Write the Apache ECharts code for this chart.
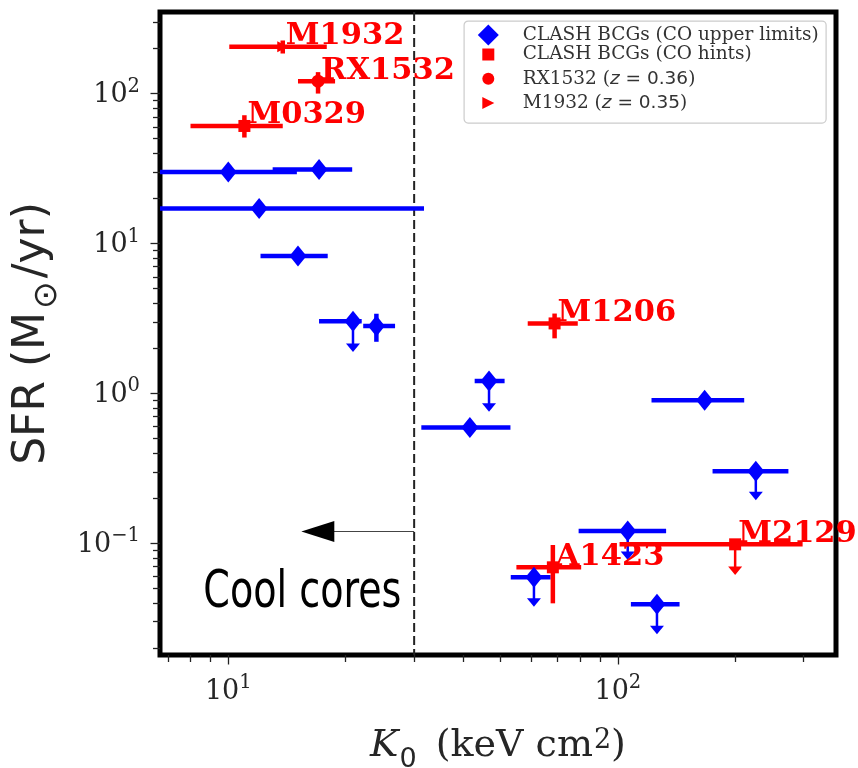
<!DOCTYPE html>
<html>
<head>
<meta charset="utf-8">
<script src="https://cdn.jsdelivr.net/npm/echarts@6/dist/echarts.min.js"></script>
<style>
html, body { margin: 0; padding: 0; background: #fff; }
#main { width: 858px; height: 768px; }
</style>
</head>
<body>
<div id="main"></div>
<script>
// CLASH BCGs, CO upper limits (blue diamonds)
var clashK       = [10.0, 17.1, 12.0, 15.1, 20.9, 24.0, 46.7, 41.7, 167, 226, 106, 60.9, 126];
var clashKLo     = [6.0, 13.0, 6.0, 12.1, 17.1, 22.2, 42.9, 31.3, 122, 175, 79.3, 53.1, 108];
var clashKHi     = [15.0, 20.8, 31.8, 18.0, 22.0, 26.8, 51.2, 53.0, 211, 274, 133, 67.2, 144];
var clashSfr     = [30.0, 31.1, 17.1, 8.26, 3.03, 2.82, 1.21, 0.593, 0.902, 0.303, 0.121, 0.0593, 0.0392];
var clashSfrLo   = [null, null, null, null, null, 2.21, null, null, null, null, null, null, null];
var clashSfrHi   = [null, null, null, null, null, 3.40, null, null, null, null, null, null, null];
var clashLimitTo = [null, null, null, null, 1.89, null, 0.754, null, null, 0.194, 0.0774, 0.0378, 0.0248];

// named clusters (red)
var redNames   = ['M1932', 'RX1532', 'M0329', 'M1206', 'A1423', 'M2129'];
var redKind    = ['m1932', 'rx1532', 'hint', 'hint', 'hint', 'hint'];
var redK       = [13.8, 17.0, 11.0, 68.8, 68.1, 200];
var redKLo     = [10.06, 15.1, 8.0, 58.7, 54.9, 101];
var redKHi     = [17.9, 18.8, 13.8, 78.9, 80.5, 298];
var redSfr     = [205, 121, 60.8, 2.93, 0.0692, 0.0985];
var redSfrLo   = [185, 100, 50.9, 2.33, 0.0398, null];
var redSfrHi   = [226, 139, 71.7, 3.41, 0.0975, null];
var redLimitTo = [null, null, null, null, null, 0.0615];

// cool core cut and annotation
var kCut = 30;
var coolArrow = [30, 15.4, 0.12];   // from K, to K, at SFR
var coolText = [15.5, 0.031];

// axes
var xRange = [6.68, 363];
var yRange = [0.018, 350];
var xMajor = [10, 100];
var xMinor = [7, 8, 9, 20, 30, 40, 50, 60, 70, 80, 90, 200, 300];
var yMajor = [0.1, 1, 10, 100];
var yMinor = [0.02, 0.03, 0.04, 0.05, 0.06, 0.07, 0.08, 0.09,
              0.2, 0.3, 0.4, 0.5, 0.6, 0.7, 0.8, 0.9,
              2, 3, 4, 5, 6, 7, 8, 9,
              20, 30, 40, 50, 60, 70, 80, 90, 200, 300];

var blue = '#0000ff';
var red = '#ff0000';

var myChart = echarts.init(document.getElementById('main'));

function powLabel(v) {
    var e = Math.round(Math.log(v) / Math.LN10);
    if (Math.abs(Math.pow(10, e) - v) > 1e-6 * v) return '';
    return '{n|10}{s|' + (e < 0 ? '\u2212' + (-e) : e) + '}';
}
var tickRich = {
    n: {fontSize: 27, fontFamily: 'DejaVu Serif', color: '#262626', verticalAlign: 'bottom', lineHeight: 30},
    s: {fontSize: 19.5, fontFamily: 'DejaVu Serif', color: '#262626', verticalAlign: 'bottom', lineHeight: 21, padding: [0, 0, 12, 0]}
};

function errLimit(api, k, from, to, color, children) {
    var a = api.coord([k, from]);
    var b = api.coord([k, to]);
    children.push({type: 'line', shape: {x1: a[0], y1: a[1], x2: b[0], y2: b[1] - 7}, style: {stroke: color, lineWidth: 2.5}});
    children.push({type: 'polygon', shape: {points: [[b[0] - 7, b[1] - 8.5], [b[0] + 7, b[1] - 8.5], [b[0], b[1]]]}, style: {fill: color}});
}

function renderBlueBars(params, api) {
    var i = params.dataIndex;
    var cs = params.coordSys;
    var c = api.coord([clashK[i], clashSfr[i]]);
    var lo = api.coord([clashKLo[i], clashSfr[i]]);
    var hi = api.coord([clashKHi[i], clashSfr[i]]);
    var children = [{type: 'line', shape: {x1: Math.max(lo[0], cs.x), y1: c[1], x2: hi[0], y2: c[1]}, style: {stroke: blue, lineWidth: 4.5}}];
    if (clashSfrLo[i] != null) {
        var v0 = api.coord([clashK[i], clashSfrLo[i]]);
        var v1 = api.coord([clashK[i], clashSfrHi[i]]);
        children.push({type: 'line', shape: {x1: c[0], y1: v0[1], x2: c[0], y2: v1[1]}, style: {stroke: blue, lineWidth: 4.5}});
    }
    if (clashLimitTo[i] != null) errLimit(api, clashK[i], clashSfr[i], clashLimitTo[i], blue, children);
    return {type: 'group', children: children};
}

function renderRedBars(params, api) {
    var i = params.dataIndex;
    var c = api.coord([redK[i], redSfr[i]]);
    var lo = api.coord([redKLo[i], redSfr[i]]);
    var hi = api.coord([redKHi[i], redSfr[i]]);
    var children = [{type: 'line', shape: {x1: lo[0], y1: c[1], x2: hi[0], y2: c[1]}, style: {stroke: red, lineWidth: 4.5}}];
    if (redSfrLo[i] != null) {
        var v0 = api.coord([redK[i], redSfrLo[i]]);
        var v1 = api.coord([redK[i], redSfrHi[i]]);
        children.push({type: 'line', shape: {x1: c[0], y1: v0[1], x2: c[0], y2: v1[1]}, style: {stroke: red, lineWidth: 4.5}});
    }
    if (redLimitTo[i] != null) errLimit(api, redK[i], redSfr[i], redLimitTo[i], red, children);
    return {type: 'group', children: children};
}

function renderRedLabels(params, api) {
    var i = params.dataIndex;
    var p = api.coord([redK[i], redSfr[i]]);
    return {
        type: 'text', x: p[0] + 3, y: p[1] + 5,
        style: {text: redNames[i], fill: red, font: 'bold 30.5px "DejaVu Serif"', align: 'left', verticalAlign: 'bottom'}
    };
}

function renderCool(params, api) {
    var cs = params.coordSys;
    var xc = api.coord([kCut, 1])[0];
    var a0 = api.coord([coolArrow[0], coolArrow[2]]);
    var a1 = api.coord([coolArrow[1], coolArrow[2]]);
    var t = api.coord(coolText);
    return {type: 'group', children: [
        {type: 'line', shape: {x1: xc, y1: cs.y, x2: xc, y2: cs.y + cs.height}, style: {stroke: '#222', lineWidth: 2, lineDash: [9, 4]}},
        {type: 'line', shape: {x1: a0[0], y1: a0[1], x2: a1[0] + 30, y2: a1[1]}, style: {stroke: '#444', lineWidth: 1.2}},
        {type: 'polygon', shape: {points: [[a1[0], a1[1]], [a1[0] + 33, a1[1] - 10.5], [a1[0] + 33, a1[1] + 10.5]]}, style: {fill: '#000'}},
        {type: 'text', x: t[0], y: t[1], scaleX: 0.83,
            style: {text: 'Cool cores', font: '51px "Liberation Sans Narrow", "DejaVu Sans Condensed", sans-serif', fill: '#000', align: 'center', verticalAlign: 'bottom'}}
    ]};
}

function pick(kind) {
    var out = [];
    for (var i = 0; i < redK.length; i++) {
        if (redKind[i] === kind) out.push([redK[i], redSfr[i]]);
    }
    return out;
}

var clashPts = clashK.map(function (k, i) { return [k, clashSfr[i]]; });
var redPts = redK.map(function (k, i) { return [k, redSfr[i]]; });

function logAxis(range, ticks, len, labels, extra) {
    var ax = {
        type: 'log', logBase: 10, min: range[0], max: range[1],
        splitLine: {show: false},
        axisLine: {show: false},
        axisTick: {show: true, customValues: ticks, length: len, lineStyle: {color: '#222', width: 1.3}},
        axisLabel: labels ? {show: true, customValues: ticks, formatter: powLabel, rich: tickRich, margin: 20} : {show: false}
    };
    for (var key in extra) ax[key] = extra[key];
    return ax;
}

function legendText(padLeft) {
    return {
        fontFamily: 'DejaVu Serif', fontSize: 18.5, color: '#333', padding: [0, 0, 0, padLeft],
        rich: {
            i: {fontFamily: 'DejaVu Sans', fontStyle: 'italic', fontSize: 18.5, color: '#333'},
            m: {fontFamily: 'DejaVu Sans', fontSize: 18.5, color: '#333'}
        }
    };
}
function legendFmt(name) {
    var m = name.match(/^(.*)\(z = (.*)\)$/);
    if (m) return m[1] + '({i|z}{m| = ' + m[2] + '})';
    return name;
}

var option = {
    animation: false,
    backgroundColor: '#fff',
    grid: {left: 160, right: 22, top: 12, bottom: 113, containLabel: false, outerBoundsMode: 'none',
        show: true, borderColor: '#000', borderWidth: 5, backgroundColor: 'transparent'},
    graphic: [{
        type: 'rect', left: 463.5, top: 20.5, z: 3,
        shape: {width: 362, height: 102, r: 4},
        style: {fill: 'rgba(255,255,255,0.85)', stroke: '#ccc', lineWidth: 1.2}
    }],
    legend: [{
        orient: 'vertical', left: 477.8, top: 24.5, padding: 0, z: 5,
        itemWidth: 21, itemHeight: 21,
        data: [{name: 'CLASH BCGs (CO upper limits)', icon: 'diamond'}],
        textStyle: legendText(19), formatter: legendFmt
    }, {
        orient: 'vertical', left: 482.3, top: 45, padding: 0, z: 5,
        itemWidth: 12, itemHeight: 12, itemGap: 5.2,
        data: [
            {name: 'CLASH BCGs (CO hints)', icon: 'rect'},
            {name: 'RX1532 (z = 0.36)', icon: 'circle'},
            {name: 'M1932 (z = 0.35)', icon: 'path://M0,0L12,6L0,12Z'}
        ],
        textStyle: legendText(23.4), formatter: legendFmt
    }],
    xAxis: [
        logAxis(xRange, xMajor, 9.5, true, {
            position: 'bottom',
            name: '{k|K}{sub|0}{r| (keV cm}{sup|2}{r|)}',
            nameLocation: 'middle', nameGap: 72,
            nameTextStyle: {rich: {
                k: {fontFamily: 'DejaVu Serif', fontStyle: 'italic', fontSize: 38, color: '#262626', verticalAlign: 'top', lineHeight: 42},
                sub: {fontFamily: 'DejaVu Sans', fontSize: 27, color: '#262626', verticalAlign: 'top', lineHeight: 28, padding: [19, 7, 0, 1]},
                r: {fontFamily: 'DejaVu Serif', fontSize: 38, color: '#262626', verticalAlign: 'top', lineHeight: 42},
                sup: {fontFamily: 'DejaVu Serif', fontSize: 27, color: '#262626', verticalAlign: 'top', lineHeight: 28, padding: [0, 0, 0, 1]}
            }}
        }),
        logAxis(xRange, xMinor, 7, false, {position: 'bottom'})
    ],
    yAxis: [
        logAxis(yRange, yMajor, 9.5, true, {
            position: 'left',
            name: '{a|SFR (M}{b|\u2299}{a|/yr)}',
            nameLocation: 'middle', nameGap: 96, nameRotate: 90,
            nameTextStyle: {rich: {
                a: {fontFamily: 'DejaVu Sans', fontSize: 44, color: '#262626', verticalAlign: 'bottom', lineHeight: 46, padding: [0, 0, 9, 0]},
                b: {fontFamily: 'DejaVu Sans', fontSize: 33, color: '#262626', verticalAlign: 'bottom', lineHeight: 34, padding: [0, 3, 0, 3]}
            }}
        }),
        logAxis(yRange, yMinor, 7, false, {position: 'left'})
    ],
    series: [
        {type: 'custom', name: 'cut', renderItem: renderCool, data: [[kCut, coolArrow[2]]], z: 1, silent: true},
        {type: 'custom', name: 'clashBars', renderItem: renderBlueBars, data: clashPts, z: 2, silent: true},
        {type: 'scatter', name: 'CLASH BCGs (CO upper limits)', symbol: 'diamond', symbolSize: [17, 21],
            itemStyle: {color: blue, opacity: 1}, data: clashPts, z: 3},
        {type: 'custom', name: 'redBars', renderItem: renderRedBars, data: redPts, z: 2, silent: true},
        {type: 'scatter', name: 'CLASH BCGs (CO hints)', symbol: 'rect', symbolSize: 12,
            itemStyle: {color: red, opacity: 1}, data: pick('hint'), z: 3},
        {type: 'scatter', name: 'RX1532 (z = 0.36)', symbol: 'circle', symbolSize: 13,
            itemStyle: {color: red, opacity: 1}, data: pick('rx1532'), z: 3},
        {type: 'scatter', name: 'M1932 (z = 0.35)', symbol: 'path://M0,0L12,6L0,12Z', symbolSize: 11,
            itemStyle: {color: red, opacity: 1}, data: pick('m1932'), z: 3},
        {type: 'custom', name: 'labels', renderItem: renderRedLabels, data: redPts, z: 4, silent: true}
    ]
};

myChart.setOption(option);
</script>
</body>
</html>
